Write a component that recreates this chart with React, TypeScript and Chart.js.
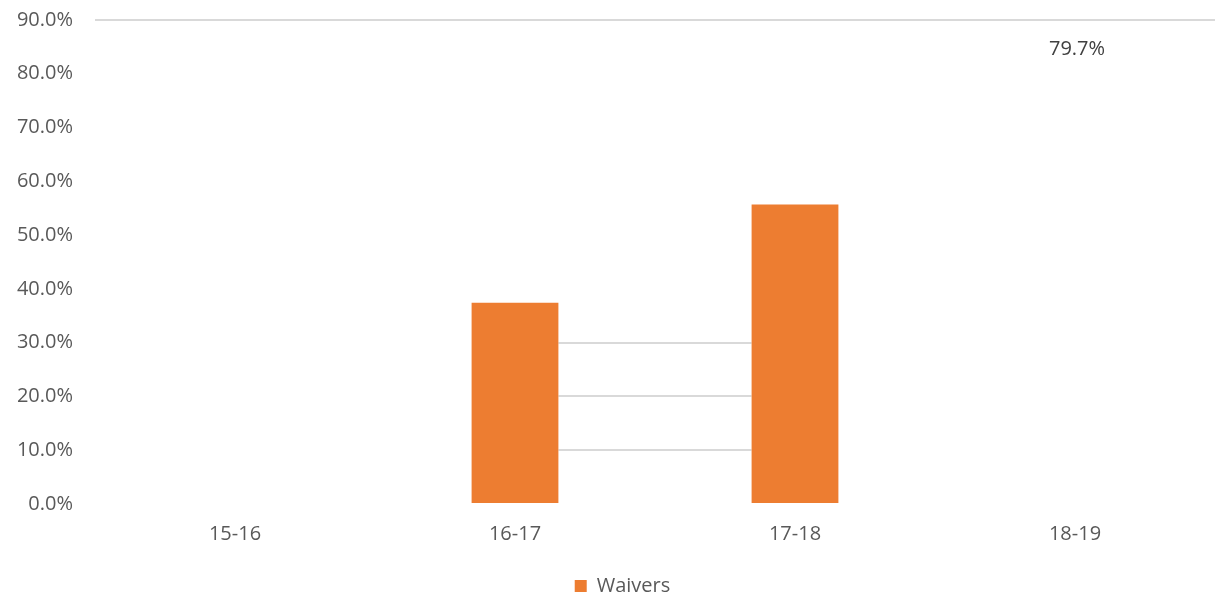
import React, { useEffect, useRef } from "react";
import { Chart, registerables } from "chart.js";

Chart.register(...registerables);

const categories = ["15-16", "16-17", "17-18", "18-19"];
const waivers: (number | null)[] = [null, 37.4, 55.7, 79.7];
const visibleBar = [true, true, true, false];
const valueLabels = ["", "", "", "79.7%"];
const yTicks = [0, 10, 20, 30, 40, 50, 60, 70, 80, 90];
const fullGridValues = [90];
const partialGridValues = [10, 20, 30];

const ORANGE = "#ED7D31";
const GRID = "#d9d9d9";
const TEXT = "#595959";
const FONT = "'Open Sans', 'Noto Sans', sans-serif";
const FS = 20;

export default function App() {
  const ref = useRef<HTMLCanvasElement | null>(null);

  useEffect(() => {
    if (!ref.current) return;
    const partialGrid = {
      id: "partialGrid",
      beforeDatasetsDraw(chart: any) {
        const meta = chart.getDatasetMeta(0);
        const a = meta.data[1];
        const b = meta.data[2];
        if (!a || !b) return;
        const x1 = a.x + a.width / 2;
        const x2 = b.x - b.width / 2;
        const y = chart.scales.y;
        const ctx = chart.ctx;
        ctx.save();
        ctx.strokeStyle = GRID;
        ctx.lineWidth = 2;
        partialGridValues.forEach((v) => {
          const py = Math.round(y.getPixelForValue(v));
          ctx.beginPath();
          ctx.moveTo(x1, py);
          ctx.lineTo(x2, py);
          ctx.stroke();
        });
        ctx.restore();
      },
    };
    const barLabels = {
      id: "barLabels",
      afterDatasetsDraw(chart: any) {
        const meta = chart.getDatasetMeta(0);
        const ctx = chart.ctx;
        ctx.save();
        ctx.fillStyle = "#404040";
        ctx.font = `${FS}px ${FONT}`;
        ctx.textAlign = "center";
        ctx.textBaseline = "middle";
        meta.data.forEach((el: any, i: number) => {
          if (!valueLabels[i]) return;
          ctx.fillText(valueLabels[i], el.x + 2, el.y - 26);
        });
        ctx.restore();
      },
    };
    const legendShift = {
      id: "legendShift",
      afterLayout(chart: any) {
        const lg = chart.legend;
        if (!lg || lg.__shifted) return;
        const orig = lg.draw;
        lg.draw = function (...args: any[]) {
          const ctx = chart.ctx;
          ctx.save();
          ctx.translate(15, 0);
          orig.apply(this, args);
          ctx.restore();
        };
        lg.__shifted = true;
      },
    };
    const chart = new Chart(ref.current, {
      type: "bar",
      data: {
        labels: categories,
        datasets: [
          {
            label: "Waivers",
            data: waivers,
            backgroundColor: (c: any) =>
              visibleBar[c.dataIndex] === false ? "rgba(0,0,0,0)" : ORANGE,
            borderWidth: 0,
            categoryPercentage: 1,
            barPercentage: 0.31,
          },
        ],
      },
      options: {
        animation: false,
        responsive: true,
        maintainAspectRatio: false,
        layout: { padding: { left: 0, right: 5, top: 20, bottom: -4 } },
        scales: {
          x: {
            grid: { display: false, drawTicks: false },
            border: { display: false },
            ticks: { color: TEXT, font: { family: FONT, size: FS }, padding: 18 },
          },
          y: {
            min: 0,
            max: 90,
            afterBuildTicks: (s: any) => {
              s.ticks = yTicks.map((v) => ({ value: v }));
            },
            afterFit: (s: any) => {
              s.width = 95;
              s.paddingTop = 0;
              s.paddingBottom = 0;
            },
            border: { display: false },
            grid: {
              drawTicks: false,
              lineWidth: 2,
              color: (c: any) =>
                fullGridValues.includes(c.tick?.value) ? GRID : "rgba(0,0,0,0)",
            },
            ticks: {
              color: TEXT,
              padding: 22,
              font: { family: FONT, size: FS },
              callback: (v: any) => Number(v).toFixed(1) + "%",
            },
          },
        },
        plugins: {
          legend: {
            position: "bottom",
            labels: {
              color: TEXT,
              font: { family: FONT, size: FS },
              boxWidth: 12,
              boxHeight: 12,
              padding: 12,
            },
          },
          tooltip: { enabled: false },
        },
      },
      plugins: [partialGrid, barLabels, legendShift],
    });
    return () => chart.destroy();
  }, []);

  return (
    <div style={{ position: "fixed", left: 0, top: 0, width: 1220, height: 602, background: "#fff" }}>
      <canvas ref={ref} />
    </div>
  );
}
